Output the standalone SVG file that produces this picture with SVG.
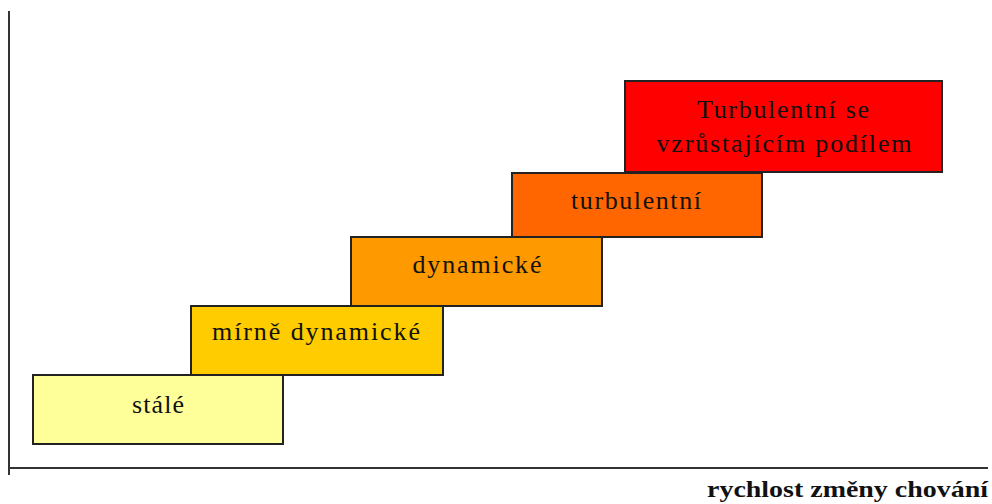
<svg xmlns="http://www.w3.org/2000/svg" width="992" height="504" viewBox="0 0 992 504">
<style>
.box{stroke:#222;stroke-width:2}
.t{font-family:"Liberation Serif","Times New Roman",serif;font-size:26px;fill:#111;text-anchor:middle}
.ax{stroke:#333;stroke-width:2;fill:none}
</style>
<rect width="992" height="504" fill="#fff"/>
<g id="axes">
<line class="ax" x1="9" y1="11" x2="9" y2="475"/>
<line class="ax" x1="9" y1="468" x2="988" y2="468"/>
<text x="988" y="497" style="font-family:'Liberation Serif','Times New Roman',serif;font-size:24px;font-weight:bold;fill:#111" text-anchor="end" textLength="281" lengthAdjust="spacingAndGlyphs">rychlost změny chování</text>
</g>
<g id="connectors"></g>
<g id="n1">
<rect class="box" x="33" y="375" width="250" height="69" fill="#FFFF99"/>
<text class="t" x="158" y="413" textLength="52">stálé</text>
</g>
<g id="n2">
<rect class="box" x="191" y="306" width="252" height="69" fill="#FFCC00"/>
<text class="t" x="316" y="340" textLength="208">mírně dynamické</text>
</g>
<g id="n3">
<rect class="box" x="351" y="237" width="251" height="69" fill="#FF9900"/>
<text class="t" x="477" y="273" textLength="129">dynamické</text>
</g>
<g id="n4">
<rect class="box" x="512" y="173" width="250" height="64" fill="#FF6600"/>
<text class="t" x="636" y="209" textLength="130">turbulentní</text>
</g>
<g id="n5">
<rect class="box" x="625" y="81" width="317" height="91" fill="#FF0000"/>
<text class="t" x="783" y="118" textLength="172">Turbulentní se</text>
<text class="t" x="784" y="152" textLength="255">vzrůstajícím podílem</text>
</g>
</svg>
